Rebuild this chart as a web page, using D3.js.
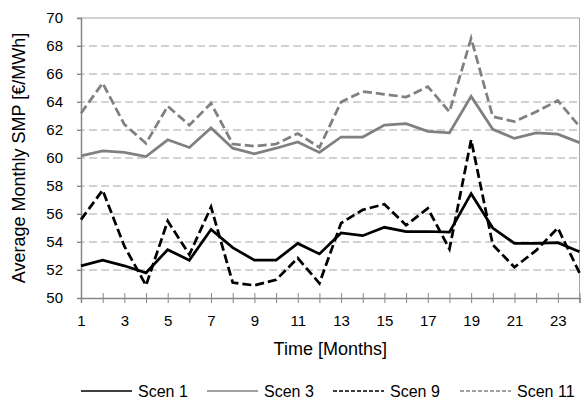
<!DOCTYPE html>
<html>
<head>
<meta charset="utf-8">
<script src="https://cdn.jsdelivr.net/npm/d3@7"></script>
<style>
  html, body { margin: 0; padding: 0; background: #fff; }
  svg { display: block; font-family: "Liberation Sans", Arial, sans-serif; }
</style>
</head>
<body>
<svg id="chart" width="581" height="399"></svg>
<script>
// Monthly average system marginal price per scenario
const months = d3.range(1, 25);
const scen1 = [52.3, 52.7, 52.3, 51.8, 53.45, 52.7, 54.9, 53.6, 52.7, 52.7, 53.9, 53.15,
               54.65, 54.45, 55.05, 54.75, 54.75, 54.7, 57.45, 55.0, 53.9, 53.9, 53.95, 53.3];
const scen3 = [60.15, 60.5, 60.4, 60.1, 61.3, 60.75, 62.15, 60.7, 60.3, 60.7, 61.15, 60.4,
               61.5, 61.5, 62.35, 62.45, 61.9, 61.8, 64.4, 62.05, 61.4, 61.8, 61.7, 61.1];
const scen9 = [55.6, 57.7, 53.7, 50.9, 55.5, 53.1, 56.5, 51.1, 50.9, 51.3, 52.85, 51.05,
               55.35, 56.3, 56.7, 55.2, 56.4, 53.5, 61.3, 53.8, 52.2, 53.4, 55.0, 51.8];
const scen11 = [63.2, 65.35, 62.4, 61.05, 63.7, 62.35, 63.9, 61.0, 60.85, 61.0, 61.75, 60.75,
                64.0, 64.75, 64.55, 64.35, 65.1, 63.3, 68.55, 62.95, 62.6, 63.3, 64.1, 62.25];
const yTicks = [50, 52, 54, 56, 58, 60, 62, 64, 66, 68, 70];
const xLabelMonths = [1, 3, 5, 7, 9, 11, 13, 15, 17, 19, 21, 23];

const series = [
  { name: "Scen 1",  values: scen1,  color: "#000000", dash: null,  legendDash: null },
  { name: "Scen 3",  values: scen3,  color: "#808080", dash: null,  legendDash: null },
  { name: "Scen 9",  values: scen9,  color: "#000000", dash: "9,4", legendDash: "4,2" },
  { name: "Scen 11", values: scen11, color: "#808080", dash: "9,4", legendDash: "4,2" }
];

const svg = d3.select("#chart");
const plot = { left: 81, right: 579.5, top: 18, bottom: 298 };

const x = d3.scaleLinear().domain([1, 24]).range([plot.left, plot.right]);
const y = d3.scaleLinear().domain([50, 70]).range([plot.bottom, plot.top]);

// horizontal dashed gridlines
svg.append("g")
  .selectAll("line")
  .data(yTicks.filter(v => v > 50 && v < 70))
  .join("line")
  .attr("x1", plot.left - 4).attr("x2", plot.right)
  .attr("y1", d => y(d)).attr("y2", d => y(d))
  .attr("stroke", "#a6a6a6").attr("stroke-width", 1)
  .attr("stroke-dasharray", "8,4");

// plot frame (top and right edges)
svg.append("path")
  .attr("d", `M${plot.left - 4},${y(70)}H${plot.right}V${plot.bottom}`)
  .attr("fill", "none").attr("stroke", "#a6a6a6").attr("stroke-width", 1);

// y axis
const yAxis = svg.append("g")
  .attr("transform", `translate(${plot.left},0)`)
  .call(d3.axisLeft(y).tickValues(yTicks).tickSize(4).tickPadding(14).tickFormat(d3.format("d")));
yAxis.select(".domain").attr("stroke", "#868686").attr("stroke-width", 1.5);
yAxis.selectAll(".tick line").attr("stroke", "#868686");
yAxis.selectAll(".tick text")
  .attr("font-size", 15).attr("fill", "#000")
  .attr("font-family", "Liberation Sans, Arial, sans-serif");

// x axis with crossing tick marks
const xAxis = svg.append("g")
  .attr("transform", `translate(0,${plot.bottom})`)
  .call(d3.axisBottom(x).tickValues(months).tickSize(5).tickPadding(12)
    .tickFormat(d => xLabelMonths.includes(d) ? d : ""));
xAxis.select(".domain").attr("stroke", "#868686").attr("stroke-width", 1.5);
xAxis.selectAll(".tick line").attr("y1", -5).attr("y2", 5).attr("stroke", "#868686");
xAxis.selectAll(".tick text")
  .attr("font-size", 15).attr("fill", "#000")
  .attr("font-family", "Liberation Sans, Arial, sans-serif");

// series lines
const line = d3.line().x((d, i) => x(months[i])).y(d => y(d));
svg.append("g")
  .selectAll("path")
  .data([series[1], series[3], series[0], series[2]])
  .join("path")
  .attr("d", d => line(d.values))
  .attr("fill", "none")
  .attr("stroke", d => d.color)
  .attr("stroke-width", 2.75)
  .attr("stroke-linejoin", "miter")
  .attr("stroke-dasharray", d => d.dash);

// axis titles
svg.append("text")
  .attr("x", (plot.left + plot.right) / 2).attr("y", 355)
  .attr("text-anchor", "middle").attr("font-size", 18)
  .text("Time [Months]");
svg.append("text")
  .attr("transform", `translate(25,${(plot.top + plot.bottom) / 2}) rotate(-90)`)
  .attr("text-anchor", "middle").attr("font-size", 18)
  .text("Average Monthly SMP [€/MWh]");

// legend
const legendX = [81, 207, 333, 460];
const legend = svg.append("g")
  .selectAll("g")
  .data(series)
  .join("g")
  .attr("transform", (d, i) => `translate(${legendX[i]},391)`);
legend.append("line")
  .attr("x1", 0).attr("x2", 51)
  .attr("stroke", d => d.color).attr("stroke-width", 1.5)
  .attr("stroke-dasharray", d => d.legendDash);
legend.append("text")
  .attr("x", 57).attr("y", 5.5)
  .attr("font-size", 16)
  .text(d => d.name);
</script>
</body>
</html>
